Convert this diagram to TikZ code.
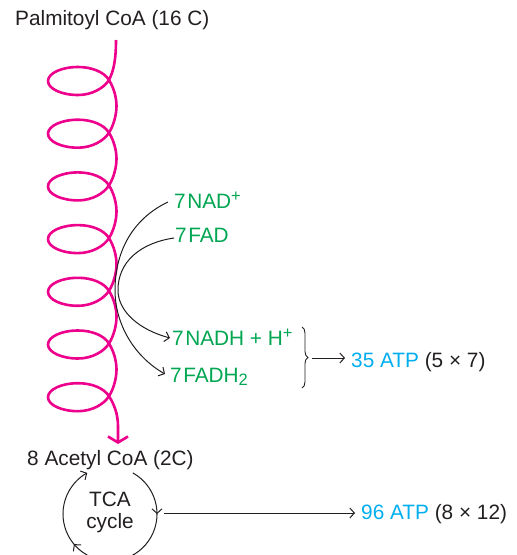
\documentclass[tikz,border=0pt]{standalone}
\usepackage{fontspec}
\setmainfont{Liberation Sans}
\usetikzlibrary{arrows.meta,decorations.pathreplacing,decorations.markings}
\definecolor{mag}{RGB}{236,0,140}
\definecolor{grn}{RGB}{0,166,81}
\definecolor{cyn}{RGB}{0,174,239}
\definecolor{txt}{RGB}{35,31,32}
\newcommand{\supplus}{\raisebox{0.55ex}{\fontsize{16.5}{16.5}\selectfont +}}
\newcommand{\subtwo}{\raisebox{-0.35ex}{\fontsize{16.5}{16.5}\selectfont 2}}
\begin{document}
\begin{tikzpicture}[x=1pt,y=-1pt,
  every node/.style={font=\fontsize{20.8}{24}\selectfont, inner sep=0pt, text=txt},
  lbl/.style={anchor=base west},
  gtext/.style={lbl, text=grn},
  spiral/.style={draw=mag, line width=2.6pt},
  conn/.style={draw=txt, line width=1pt, -{Straight Barb[length=4.5pt,width=10pt]}},
  ]
\useasboundingbox (0,0) rectangle (517,555);

% texts
\node[lbl] (palm) at (15,25) {Palmitoyl CoA (16 C)};
\node[gtext] (nad) at (174,208) {7\kern1.5pt NAD\supplus};
\node[gtext] (fad) at (175,242) {7\kern1.5pt FAD};
\node[gtext] (nadh) at (172,345) {7\kern1.5pt NADH + H\supplus};
\node[gtext] (fadh) at (170,382) {7\kern1.5pt FADH\subtwo};
\node[lbl] (atp35) at (351,367) {\textcolor{cyn}{35 ATP} (5 × 7)};
\node[lbl] (acetyl) at (27,465) {8 Acetyl CoA (2C)};
\node[align=center, anchor=base, font=\fontsize{20.8}{21.5}\selectfont] (tca) at (110,528) {TCA\\cycle};
\node[lbl] (atp96) at (361,519) {\textcolor{cyn}{96 ATP} (8 × 12)};

% spiral
\coordinate (sp0) at (116,40);
\coordinate (spend) at (118,444);
\draw[spiral, -{Straight Barb[length=6pt,width=20pt,line width=2.6pt]}]
  (sp0) .. controls (116,62) and (113,72) .. (109,80)
  \foreach \y in {80,132.7,185.4,238.1,290.8,343.5} {
    .. controls (104,{\y+8}) and (92,{\y+15}) .. (78,{\y+15})
    .. controls (61.4,{\y+15}) and (48,{\y+8.7}) .. (48,{\y+1})
    .. controls (48,{\y-6.7}) and (61.4,{\y-13}) .. (78,{\y-13})
    .. controls (92,{\y-13}) and (104,{\y-8}) .. (109,\y)
    .. controls (114,{\y+8}) and (116.5,{\y+18}) .. (116.5,{\y+26})
    .. controls (116.5,{\y+34}) and (114,{\y+44.7}) .. (109,{\y+52.7})
  }
    .. controls (104,404.2) and (92,411.2) .. (78,411.2)
    .. controls (61.4,411.2) and (48,404.9) .. (48,397.2)
    .. controls (48,389.5) and (61.4,383.2) .. (78,383.2)
    .. controls (92,383.2) and (104,388.2) .. (109,396.2)
    .. controls (114,404) and (118,414) .. (118,426) -- (spend);

% black curved arrows
\coordinate (s1) at (168,202);
\coordinate (s2) at (174,238);
\coordinate (e1) at (170,338);
\coordinate (e2) at (165,374);
\draw[conn] (s1) .. controls (130,220) and (115,255) .. (115,290) .. controls (115,325) and (135,357) .. (e2);
\draw[conn] (s2) .. controls (140,243) and (118,262) .. (118,290) .. controls (118,312) and (140,330) .. (e1);

% brace
\coordinate (b1) at (302,327);
\coordinate (b2) at (302,388);
\coordinate (bt) at (312,358);
\coordinate (a35) at (345,358);
\draw[txt, line width=0.9pt, decorate, decoration={brace, amplitude=6pt}] (b1) -- (b2);
\draw[conn] (bt) -- (a35);

% TCA cycle
\begin{scope}
\clip (0,0) rectangle (517,555);
\draw[txt, line width=1pt, -{Straight Barb[length=4.5pt,width=10pt]},
  postaction={decorate},
  decoration={markings,
    mark=at position 0.202 with {\arrow{Straight Barb[length=4.5pt,width=10pt]}},
    mark=at position 0.666 with {\arrow{Straight Barb[length=4.5pt,width=10pt]}}}]
  (110,514) ++(-61:47) arc[start angle=-61, end angle=241, radius=47];
\end{scope}
\coordinate (cr) at (164,513);
\coordinate (a96) at (355,513);
\draw[conn] (cr) -- (a96);
\end{tikzpicture}
\end{document}
